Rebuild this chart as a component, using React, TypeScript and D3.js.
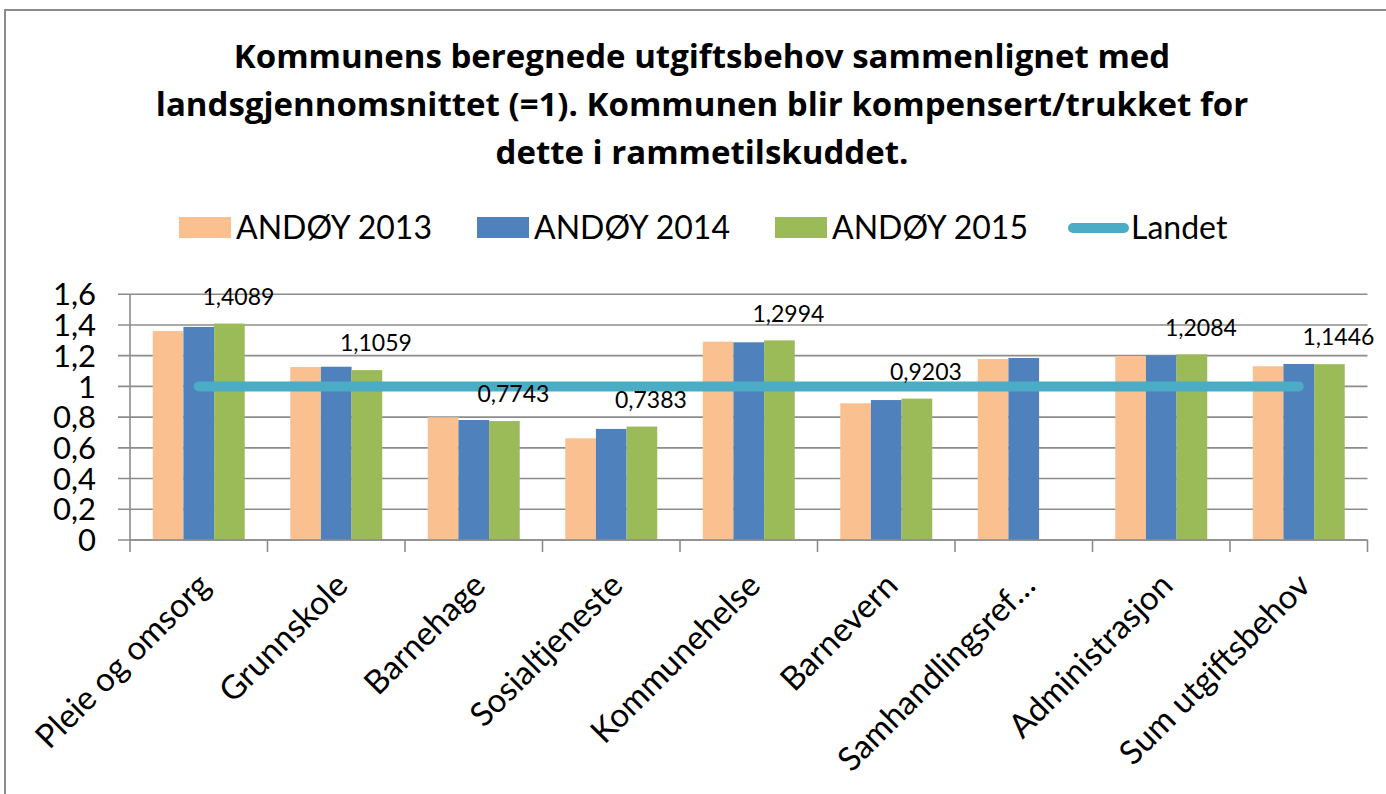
import { useEffect, useRef } from "react"
import * as d3 from "d3"

const categories = [
    "Pleie og omsorg",
    "Grunnskole",
    "Barnehage",
    "Sosialtjeneste",
    "Kommunehelse",
    "Barnevern",
    "Samhandlingsref…",
    "Administrasjon",
    "Sum utgiftsbehov",
]

const seriesNames = ["ANDØY 2013", "ANDØY 2014", "ANDØY 2015"]
const values2013 = [1.36, 1.126, 0.799, 0.662, 1.291, 0.89, 1.178, 1.198, 1.131]
const values2014 = [1.387, 1.128, 0.781, 0.723, 1.287, 0.911, 1.185, 1.202, 1.146]
const values2015 = [1.4089, 1.1059, 0.7743, 0.7383, 1.2994, 0.9203, null, 1.2084, 1.1446]
const landetName = "Landet"
const landet = [1, 1, 1, 1, 1, 1, 1, 1, 1]

const yTicks = [0, 0.2, 0.4, 0.6, 0.8, 1, 1.2, 1.4, 1.6]

const titleLines = [
    "Kommunens beregnede utgiftsbehov sammenlignet med",
    "landsgjennomsnittet (=1). Kommunen blir kompensert/trukket for",
    "dette i rammetilskuddet.",
]

const colors = ["#FAC090", "#4F81BD", "#9BBB59"]
const landetColor = "#4BACC6"
const FONT = "Lato, 'Open Sans', sans-serif"
const TITLE_FONT = "'Open Sans', Lato, sans-serif"

export default function App() {
    const ref = useRef<SVGSVGElement>(null)

    useEffect(() => {
        const width = 1386, height = 794
        const svg = d3.select(ref.current)
        svg.selectAll("*").remove()
        svg.attr("width", width).attr("height", height)

        const nb = d3.formatLocale({ decimal: ",", thousands: " ", grouping: [3], currency: ["", ""] })
        const fmtLabel = nb.format(".4f")
        const fmtTick = (d: number) => nb.format("~g")(d)

        // chart border
        svg.append("rect")
            .attr("x", 5).attr("y", 10)
            .attr("width", width + 20).attr("height", height + 20)
            .attr("fill", "#fff")
            .attr("stroke", "#8c8c8c")
            .attr("stroke-width", 2)

        // title
        svg.append("text")
            .attr("text-anchor", "middle")
            .attr("font-family", TITLE_FONT)
            .attr("font-weight", 700)
            .attr("font-size", 33)
            .attr("fill", "#000")
            .selectAll("tspan")
            .data(titleLines)
            .join("tspan")
            .attr("x", 702)
            .attr("y", (d, i) => 68 + i * 48)
            .text((d) => d)

        const x0 = d3.scaleBand<string>()
            .domain(categories)
            .range([130, 1367.5])
            .paddingInner(0.331)
            .paddingOuter(0.1655)

        const x1 = d3.scaleBand<number>()
            .domain([0, 1, 2])
            .range([0, x0.bandwidth()])

        const y = d3.scaleLinear()
            .domain([0, 1.6])
            .range([540, 294.2])

        const step = x0.step()
        const left = 130, right = 130 + step * categories.length

        // gridlines
        svg.append("g")
            .selectAll("line")
            .data(yTicks)
            .join("line")
            .attr("x1", 118).attr("x2", right)
            .attr("y1", (d) => y(d)).attr("y2", (d) => y(d))
            .attr("stroke", "#8c8c8c")
            .attr("stroke-width", 1.6)

        // y axis line
        svg.append("line")
            .attr("x1", left).attr("x2", left)
            .attr("y1", y(1.6)).attr("y2", y(0) + 1)
            .attr("stroke", "#8c8c8c")
            .attr("stroke-width", 1.6)

        // y tick labels
        svg.append("g")
            .selectAll("text")
            .data(yTicks)
            .join("text")
            .attr("x", 96)
            .attr("y", (d) => y(d))
            .attr("dy", "0.36em")
            .attr("text-anchor", "end")
            .attr("font-family", FONT)
            .attr("font-size", 31)
            .attr("fill", "#000")
            .text((d) => fmtTick(d))

        // x tick marks at category boundaries
        svg.append("g")
            .selectAll("line")
            .data(d3.range(categories.length + 1))
            .join("line")
            .attr("x1", (i) => left + i * step).attr("x2", (i) => left + i * step)
            .attr("y1", y(0)).attr("y2", y(0) + 12)
            .attr("stroke", "#8c8c8c")
            .attr("stroke-width", 1.6)

        // bars
        const series = [values2013, values2014, values2015]
        series.forEach((vals, si) => {
            svg.append("g")
                .selectAll("rect")
                .data(vals.map((v, i) => ({ cat: categories[i], v })).filter((d) => d.v != null))
                .join("rect")
                .attr("x", (d) => (x0(d.cat) as number) + (x1(si) as number))
                .attr("y", (d) => y(d.v as number))
                .attr("width", x1.bandwidth())
                .attr("height", (d) => y(0) - y(d.v as number))
                .attr("fill", colors[si])
        })

        // x axis line on top of bars
        svg.append("line")
            .attr("x1", left).attr("x2", right)
            .attr("y1", y(0)).attr("y2", y(0))
            .attr("stroke", "#8c8c8c")
            .attr("stroke-width", 1.6)

        // Landet line
        const line = d3.line<number>()
            .x((d, i) => (x0(categories[i]) as number) + x0.bandwidth() / 2)
            .y((d) => y(d))
        svg.append("path")
            .attr("d", line(landet))
            .attr("fill", "none")
            .attr("stroke", landetColor)
            .attr("stroke-width", 10)
            .attr("stroke-linecap", "round")

        // data labels on 2015 series
        svg.append("g")
            .selectAll("text")
            .data(values2015.map((v, i) => ({ cat: categories[i], v })).filter((d) => d.v != null))
            .join("text")
            .attr("x", (d) => (x0(d.cat) as number) + (x1(2) as number) + x1.bandwidth() / 2 + 9)
            .attr("y", (d) => y(d.v as number) - 27)
            .attr("dy", "0.36em")
            .attr("text-anchor", "middle")
            .attr("font-family", FONT)
            .attr("font-size", 23)
            .attr("fill", "#000")
            .text((d) => fmtLabel(d.v as number))

        // x category labels, rotated
        svg.append("g")
            .selectAll("text")
            .data(categories)
            .join("text")
            .attr("transform", (d) => `translate(${(x0(d) as number) + x0.bandwidth() / 2 - 4}, 570) rotate(-45)`)
            .attr("dy", "0.75em")
            .attr("text-anchor", "end")
            .attr("font-family", FONT)
            .attr("font-size", 33)
            .attr("fill", "#000")
            .text((d) => d)

        // legend
        const legend = svg.append("g").attr("font-family", FONT).attr("font-size", 32)
        const legendX = [179, 477, 775]
        seriesNames.forEach((name, i) => {
            legend.append("rect")
                .attr("x", legendX[i]).attr("y", 217)
                .attr("width", 52).attr("height", 21)
                .attr("fill", colors[i])
            legend.append("text")
                .attr("x", legendX[i] + 57).attr("y", 239)
                .attr("fill", "#000")
                .text(name)
        })
        legend.append("line")
            .attr("x1", 1073).attr("x2", 1124)
            .attr("y1", 228).attr("y2", 228)
            .attr("stroke", landetColor)
            .attr("stroke-width", 10)
            .attr("stroke-linecap", "round")
        legend.append("text")
            .attr("x", 1131).attr("y", 239)
            .attr("fill", "#000")
            .text(landetName)
    }, [])

    return (
        <div style={{ position: "absolute", left: 0, top: 0 }}>
            <svg ref={ref}></svg>
        </div>
    )
}
